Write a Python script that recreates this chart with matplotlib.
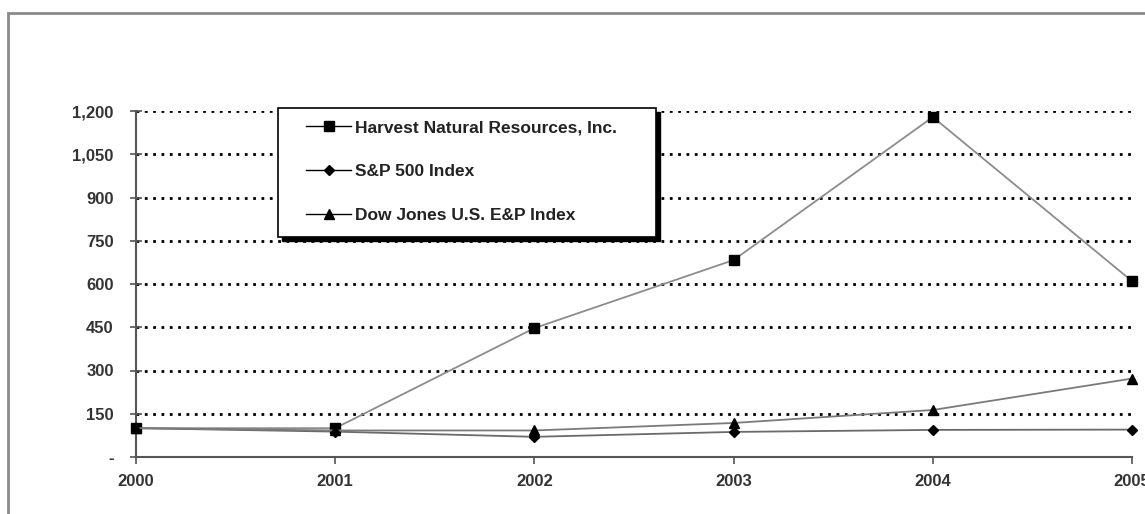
import matplotlib

matplotlib.use("Agg")
import matplotlib.pyplot as plt
from matplotlib.patches import Rectangle

plt.rcParams["font.family"] = ["Liberation Sans", "DejaVu Sans"]

years = [2000, 2001, 2002, 2003, 2004, 2005]
harvest = [100, 100, 447, 683, 1179, 610]
sp500 = [100, 88, 70, 87, 94, 95]
dow_ep = [100, 92, 92, 118, 163, 272]
series_labels = ["Harvest Natural Resources, Inc.", "S&P 500 Index", "Dow Jones U.S. E&P Index"]
y_ticks = [0, 150, 300, 450, 600, 750, 900, 1050, 1200]

W, H = 1145, 514
fig = plt.figure(figsize=(W / 100, H / 100), dpi=100)
ax = fig.add_axes([136 / W, 1 - 457 / H, (1132 - 136) / W, (457 - 111) / H])


def px_rect(x0, y0, x1, y1, **kw):
    # rectangle given in image pixels (top-left origin)
    return Rectangle((x0 / W, 1 - y1 / H), (x1 - x0) / W, (y1 - y0) / H,
                     transform=fig.transFigure, **kw)


# outer gray frame (right/bottom edges fall outside the image)
fig.patches.append(px_rect(8, 13, 1300, 600, fill=False, edgecolor="#8a8a8a", linewidth=2))

ax.set_xlim(2000, 2005)
ax.set_ylim(0, 1200)
ax.set_yticks(y_ticks)
ax.set_yticklabels(["-" if v == 0 else f"{v:,}" for v in y_ticks])
ax.set_xticks(years)
ax.set_xticklabels([str(y) for y in years])

for v in y_ticks[1:]:
    ax.axhline(v, color="black", linewidth=2, linestyle=(0, (1, 2)), zorder=1)

ax.plot(years, harvest, color="#8c8c8c", linewidth=1.3, marker="s", markersize=7,
        markerfacecolor="black", markeredgecolor="black", label=series_labels[0], zorder=3, clip_on=False)
ax.plot(years, sp500, color="#6a6a6a", linewidth=1.3, marker="D", markersize=5.5,
        markerfacecolor="black", markeredgecolor="black", label=series_labels[1], zorder=3, clip_on=False)
ax.plot(years, dow_ep, color="#7a7a7a", linewidth=1.3, marker="^", markersize=6.5,
        markerfacecolor="black", markeredgecolor="black", label=series_labels[2], zorder=3, clip_on=False)

for side in ["top", "right"]:
    ax.spines[side].set_visible(False)
for side in ["left", "bottom"]:
    ax.spines[side].set_color("#555555")
    ax.spines[side].set_linewidth(1.5)

ax.tick_params(axis="y", direction="inout", length=8, width=1.2, color="#555555", pad=12,
               labelsize=12, labelcolor="#333333")
ax.tick_params(axis="x", direction="out", length=5, width=1.2, color="#555555", pad=7,
               labelsize=12, labelcolor="#333333")
for lbl in ax.get_xticklabels() + ax.get_yticklabels():
    lbl.set_fontweight("bold")

# legend box with a solid drop shadow
fig.patches.append(px_rect(282, 112, 660, 241, facecolor="black", edgecolor="black", zorder=4))
fig.patches.append(px_rect(278, 108, 656, 237, facecolor="white", edgecolor="black", linewidth=1.2, zorder=5))

leg = fig.legend(*ax.get_legend_handles_labels(), loc="upper left",
                 bbox_to_anchor=(306 / W, 1 - 120 / H), frameon=False,
                 prop={"weight": "bold", "size": 12.5}, handlelength=2.6, handletextpad=0.25,
                 labelspacing=1.67, borderpad=0, borderaxespad=0)
leg.set_zorder(6)
for h in leg.legend_handles:
    h.set_color("black")
    h.set_linewidth(1.0)
for t in leg.get_texts():
    t.set_color("#222222")

fig.savefig("out.png", dpi=100)
